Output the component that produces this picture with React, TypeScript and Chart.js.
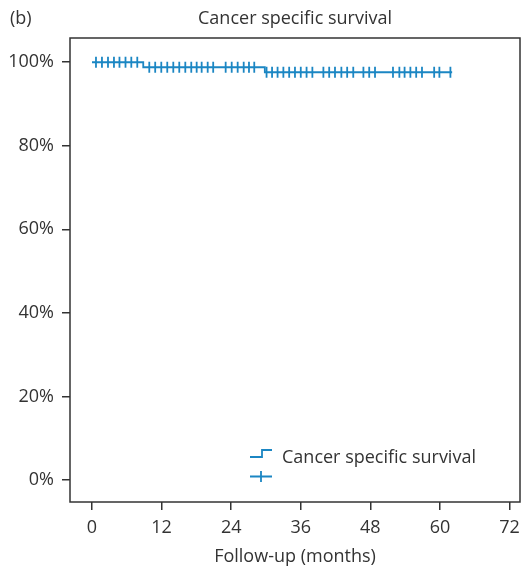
import React, { useEffect, useRef } from "react";
import { Chart, registerables } from "chart.js";

Chart.register(...registerables);

// Axis ticks
const xTicks = [0, 12, 24, 36, 48, 60, 72];
const yTicks = [0, 20, 40, 60, 80, 100];

// Kaplan–Meier step curve (months, survival %)
const stepTimes = [0, 8.84, 29.8, 62.1];
const stepSurvival = [100, 98.8, 97.6, 97.6];

// Censored observations (months)
const censorTimes = [
  0.69, 1.72, 2.76, 3.79, 4.74, 5.78, 6.78, 7.81,
  9.88, 10.9, 11.95, 12.98, 14.02, 15.05, 16.09, 17.12, 18.05, 18.91, 19.95, 20.9,
  23.05, 24.09, 25.12, 26.16, 27.07, 27.98,
  30.1, 31.05, 32.0, 33.0, 34.0, 35.0, 36.0, 37.0, 38.0,
  39.9, 40.9, 41.9, 43.0, 44.0, 45.05,
  46.8, 47.8, 48.8,
  51.9, 53.0, 53.9, 54.9, 55.9, 56.9,
  59.0, 59.9,
  61.8,
];

const title = "Cancer specific survival";
const panelLabel = "(b)";
const xTitle = "Follow-up (months)";
const legendLabel = "Cancer specific survival";

const BLUE = "#1b86c3";
const INK = "#333333";
const FONT = "'Open Sans', 'Noto Sans', sans-serif";
const FS = 18;

function survivalAt(t: number): number {
  let s = stepSurvival[0];
  for (let i = 0; i < stepTimes.length; i++) {
    if (stepTimes[i] <= t) s = stepSurvival[i];
  }
  return s;
}

const framePlugin = {
  id: "frameAndLegend",
  afterDraw(chart: any) {
    const { ctx, chartArea } = chart;
    ctx.save();
    // frame
    ctx.strokeStyle = INK;
    ctx.lineWidth = 1.5;
    ctx.strokeRect(chartArea.left, chartArea.top, chartArea.right - chartArea.left, chartArea.bottom - chartArea.top);

    // panel label and title
    ctx.fillStyle = INK;
    ctx.font = `${FS}px ${FONT}`;
    ctx.textAlign = "left";
    ctx.textBaseline = "middle";
    ctx.fillText(panelLabel, 10, 19);
    ctx.textAlign = "center";
    ctx.fillText(title, (chartArea.left + chartArea.right) / 2, 18.5);

    // legend
    const lx = 250;
    ctx.strokeStyle = BLUE;
    ctx.lineWidth = 1.8;
    ctx.beginPath();
    ctx.moveTo(lx, 457);
    ctx.lineTo(lx + 12, 457);
    ctx.lineTo(lx + 12, 450);
    ctx.lineTo(lx + 22, 450);
    ctx.stroke();
    ctx.beginPath();
    ctx.moveTo(lx, 476.5);
    ctx.lineTo(lx + 22, 476.5);
    ctx.moveTo(lx + 11, 471);
    ctx.lineTo(lx + 11, 482);
    ctx.stroke();

    ctx.fillStyle = INK;
    ctx.textAlign = "left";
    ctx.textBaseline = "alphabetic";
    ctx.fillText(legendLabel, 282, 463);
    ctx.restore();
  },
};

export default function App() {
  const ref = useRef<HTMLCanvasElement | null>(null);

  useEffect(() => {
    if (!ref.current) return;
    const chart = new Chart(ref.current, {
      type: "line",
      data: {
        datasets: [
          {
            label: "curve",
            data: stepTimes.map((t, i) => ({ x: t, y: stepSurvival[i] })),
            stepped: true,
            borderColor: BLUE,
            borderWidth: 1.8,
            pointRadius: 0,
            fill: false,
          },
          {
            label: "censored",
            data: censorTimes.map((t) => ({ x: t, y: survivalAt(t) })),
            showLine: false,
            pointStyle: "line",
            rotation: 90,
            pointRadius: 5.5,
            pointBorderWidth: 1.8,
            borderColor: BLUE,
            pointBorderColor: BLUE,
            backgroundColor: BLUE,
          },
        ],
      },
      options: {
        animation: false,
        responsive: false,
        layout: { autoPadding: false, padding: { left: 0, right: 2, top: 38, bottom: 0 } },
        plugins: {
          legend: { display: false },
          tooltip: { enabled: false },
          title: { display: false },
        },
        scales: {
          x: {
            type: "linear",
            min: -3.79,
            max: 73.8,
            afterBuildTicks: (s: any) => {
              s.ticks = xTicks.map((v) => ({ value: v }));
            },
            afterFit: (s: any) => {
              s.height = 73;
              s.paddingLeft = 0;
              s.paddingRight = 0;
            },
            grid: { drawOnChartArea: false, drawTicks: true, tickLength: 8, color: INK, lineWidth: 1.5 },
            border: { display: false },
            ticks: { color: INK, font: { family: FONT, size: FS }, padding: 7, maxRotation: 0, autoSkip: false },
            title: {
              display: true,
              text: xTitle,
              color: INK,
              font: { family: FONT, size: FS },
              padding: { top: 0, bottom: 7.2 },
            },
          },
          y: {
            type: "linear",
            min: -5.27,
            max: 105.8,
            afterBuildTicks: (s: any) => {
              s.ticks = yTicks.map((v) => ({ value: v }));
            },
            afterFit: (s: any) => {
              s.width = 70;
              s.paddingTop = 0;
              s.paddingBottom = 0;
            },
            grid: { drawOnChartArea: false, drawTicks: true, tickLength: 8, color: INK, lineWidth: 1.5 },
            border: { display: false },
            ticks: {
              color: INK,
              font: { family: FONT, size: FS },
              padding: 8,
              callback: (v: any) => `${v}%`,
            },
          },
        },
      },
      plugins: [framePlugin],
    });
    return () => chart.destroy();
  }, []);

  return (
    <div style={{ position: "absolute", left: 0, top: 0, width: 522, height: 575, background: "#fff" }}>
      <canvas ref={ref} width={522} height={575} style={{ width: 522, height: 575, display: "block" }} />
    </div>
  );
}
